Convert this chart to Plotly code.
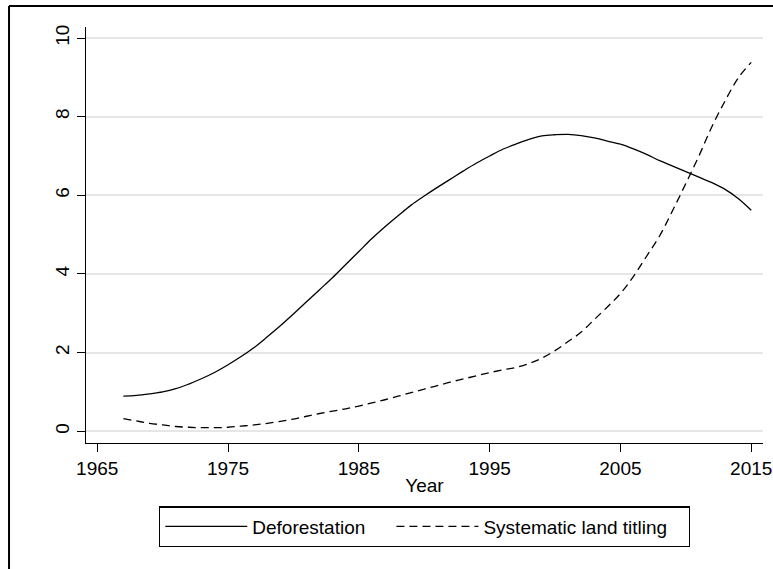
import plotly.graph_objects as go

years = list(range(1967, 2016))
deforestation = [0.89, 0.91, 0.95, 1.00, 1.08, 1.20, 1.34, 1.50, 1.69, 1.90,
                 2.13, 2.40, 2.68, 2.98, 3.29, 3.60, 3.91, 4.24, 4.57, 4.90,
                 5.20, 5.48, 5.75, 5.98, 6.20, 6.41, 6.62, 6.82, 7.00, 7.17,
                 7.30, 7.42, 7.51, 7.54, 7.55, 7.52, 7.46, 7.38, 7.30, 7.18,
                 7.04, 6.88, 6.74, 6.60, 6.46, 6.32, 6.15, 5.92, 5.62]
titling = [0.32, 0.26, 0.20, 0.16, 0.12, 0.10, 0.09, 0.09, 0.10, 0.13,
           0.16, 0.20, 0.25, 0.31, 0.38, 0.45, 0.51, 0.57, 0.64, 0.72,
           0.80, 0.89, 0.98, 1.07, 1.16, 1.25, 1.33, 1.41, 1.49, 1.56,
           1.62, 1.72, 1.86, 2.05, 2.28, 2.52, 2.84, 3.16, 3.50, 3.94,
           4.45, 4.97, 5.62, 6.30, 7.00, 7.75, 8.40, 8.98, 9.38]
x_ticks = [1965, 1975, 1985, 1995, 2005, 2015]
y_ticks = [0, 2, 4, 6, 8, 10]
series_names = ["Deforestation", "Systematic land titling"]

FONT = "Liberation Sans, Arial, sans-serif"
FS = 19
NB = "\u00a0"

fig = go.Figure()
fig.add_trace(go.Scatter(x=years, y=deforestation, mode="lines",
                         name=series_names[0] + NB * 4,
                         line=dict(color="black", width=1.3, shape="spline")))
fig.add_trace(go.Scatter(x=years, y=titling, mode="lines",
                         name=series_names[1] + NB * 3,
                         line=dict(color="black", width=1.3, dash="8px,5px", shape="spline")))

fig.update_layout(
    width=773, height=569,
    margin=dict(l=86, r=10, t=27, b=126),
    paper_bgcolor="white", plot_bgcolor="white",
    font=dict(family=FONT, size=FS, color="black"),
    showlegend=True,
    legend=dict(orientation="h", x=0.5, xanchor="center", y=-0.152, yanchor="top",
                bordercolor="black", borderwidth=1.3, itemwidth=82,
                font=dict(family=FONT, size=FS, color="black"),
                traceorder="normal"),
    xaxis=dict(range=[1964.14, 2015.9], tickvals=x_ticks, ticktext=[str(v) for v in x_ticks],
               automargin=False,
               showline=True, linecolor="black", linewidth=1.3,
               ticks="outside", ticklen=8, tickwidth=1.3, tickcolor="black",
               showgrid=False, zeroline=False,
               title=dict(text="Year", standoff=0, font=dict(size=FS))),
    yaxis=dict(range=[-0.3, 10.28], tickvals=y_ticks, ticktext=[str(v) for v in y_ticks],
               tickangle=-90, automargin=False,
               showline=True, linecolor="black", linewidth=1.3,
               ticks="outside", ticklen=8, tickwidth=1.3, tickcolor="black",
               showgrid=True, gridcolor="#e6e6e6", gridwidth=1.5, zeroline=False),
)

# outer frame (top and left edges visible)
fig.add_shape(type="line", xref="paper", yref="paper",
              x0=-0.1137, y0=1.0505, x1=1.2, y1=1.0505, line=dict(color="black", width=2))
fig.add_shape(type="line", xref="paper", yref="paper",
              x0=-0.1137, y0=1.0505, x1=-0.1137, y1=-0.4, line=dict(color="black", width=2))

fig.write_html("out.html", config={"displayModeBar": False},
               post_script="document.body.style.margin='0';document.body.style.overflow='hidden';")
